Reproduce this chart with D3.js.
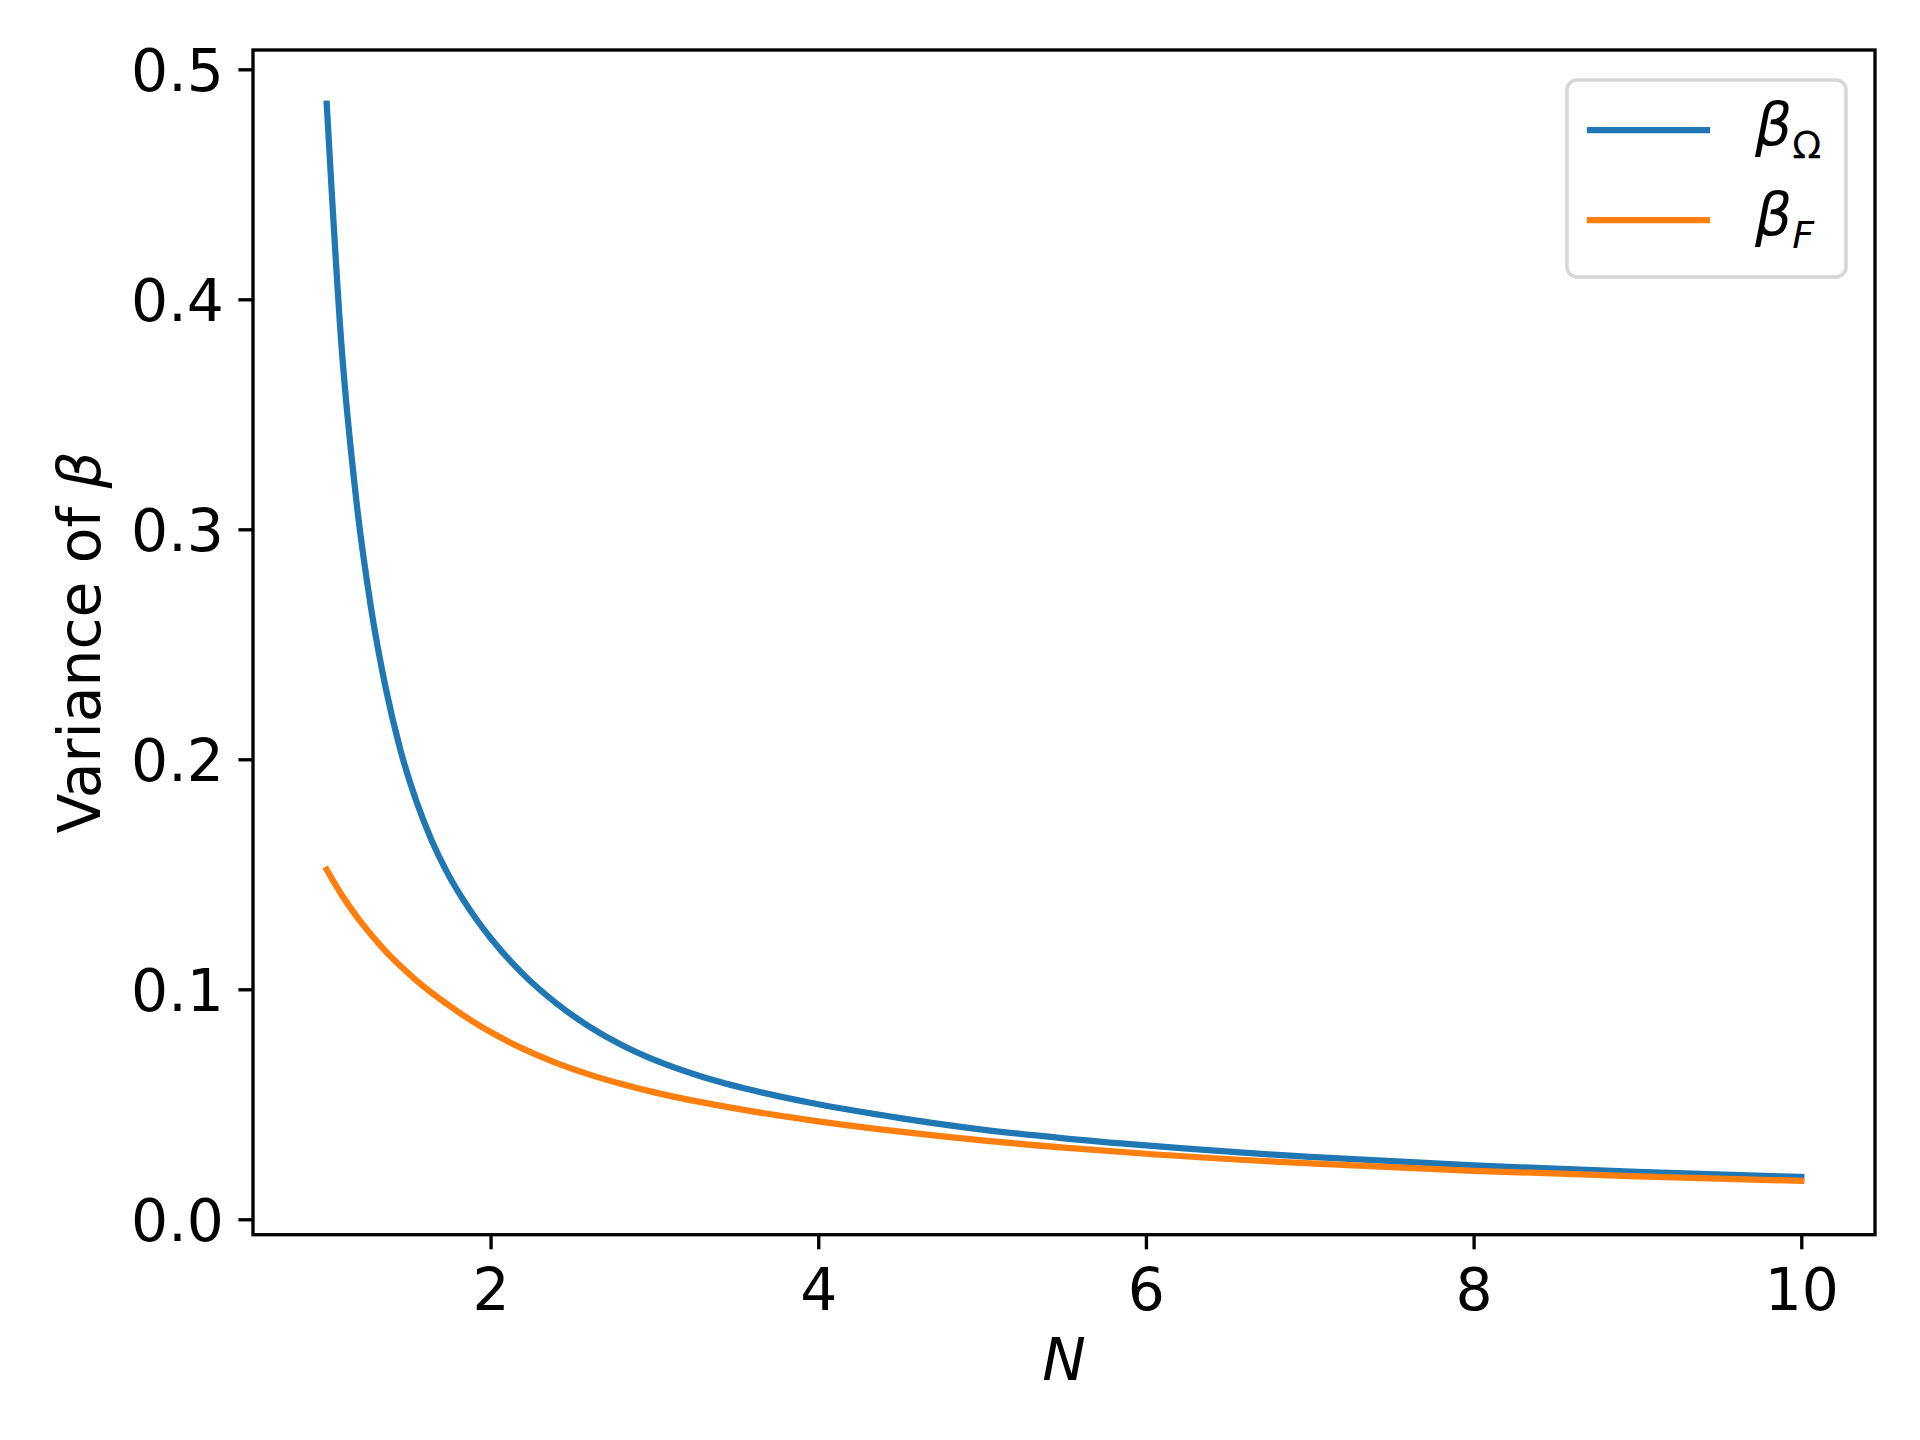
<!DOCTYPE html>
<html>
<head>
<meta charset="utf-8">
<script src="https://cdnjs.cloudflare.com/ajax/libs/d3/7.8.5/d3.min.js"></script>
<style>
  body { margin: 0; background: #fff; }
  text { font-family: "DejaVu Sans", sans-serif; fill: #000; }
</style>
</head>
<body>
<svg width="1920" height="1440"></svg>
<script>
// values
var nValues = [1.00, 1.09, 1.18, 1.27, 1.36, 1.45, 1.55, 1.64, 1.73, 1.82, 1.91, 2.00,
  2.2, 2.4, 2.6, 2.8, 3.0, 3.3, 3.6, 4.0, 4.5, 5.0, 5.5, 6.0, 7.0, 8.0, 9.0, 10.0];
var betaOmega = [0.485, 0.380, 0.313, 0.266, 0.231, 0.204, 0.1812, 0.1648, 0.1515, 0.1404, 0.1308, 0.1223,
  0.1065, 0.0940, 0.0839, 0.0758, 0.0693, 0.0618, 0.0561, 0.0500, 0.0440, 0.0390, 0.0352, 0.0321,
  0.0271, 0.0234, 0.0206, 0.0184];
var betaF = [0.152, 0.1412, 0.1319, 0.1238, 0.1165, 0.1101, 0.1037, 0.0985, 0.0938, 0.0893, 0.0852, 0.0814,
  0.0741, 0.0680, 0.0630, 0.0588, 0.0552, 0.0507, 0.0469, 0.0426, 0.0381, 0.0343, 0.0312, 0.0285,
  0.0243, 0.0211, 0.0187, 0.0167];
var xTicks = [2, 4, 6, 8, 10],
  yTicks = [0.0, 0.1, 0.2, 0.3, 0.4, 0.5];
var xLimits = [0.55, 10.45],
  yLimits = [-0.0067, 0.5084];

var fontSize = 58.3,
  lineWidth = 6.25,
  spineWidth = 3.33,
  tickLen = 14.6;

var series = [
  {name: "omega", color: "#1f77b4", values: betaOmega},
  {name: "F", color: "#ff7f0e", values: betaF}
];

var svg = d3.select("svg");

var x = d3.scaleLinear().domain(xLimits).range([253, 1875]),
  y = d3.scaleLinear().domain(yLimits).range([1234.7, 50]);

// Axes
var xAxis = svg.append("g")
  .attr("transform", "translate(0," + y.range()[0] + ")")
  .call(d3.axisBottom(x)
    .tickValues(xTicks)
    .tickFormat(d3.format("d"))
    .tickSizeInner(tickLen)
    .tickSizeOuter(0)
    .tickPadding(19.3));

var yAxis = svg.append("g")
  .attr("transform", "translate(" + x.range()[0] + ",0)")
  .call(d3.axisLeft(y)
    .tickValues(yTicks)
    .tickFormat(d3.format(".1f"))
    .tickSizeInner(tickLen)
    .tickSizeOuter(0)
    .tickPadding(14.6));

[xAxis, yAxis].forEach(function(a) {
  a.select(".domain").remove();
  a.attr("font-family", null).attr("font-size", null);
  a.selectAll(".tick line").attr("stroke", "#000").attr("stroke-width", spineWidth);
  a.selectAll(".tick text").style("font-size", fontSize + "px");
});
yAxis.selectAll(".tick text").attr("dy", "0.36em");

// Lines
var line = d3.line()
  .x(function(d) { return x(d[0]); })
  .y(function(d) { return y(d[1]); })
  .curve(d3.curveMonotoneX);

svg.append("g")
  .selectAll("path")
  .data(series)
  .enter().append("path")
    .attr("fill", "none")
    .attr("stroke", function(d) { return d.color; })
    .attr("stroke-width", lineWidth)
    .attr("stroke-linecap", "square")
    .attr("d", function(d) {
      return line(d.values.map(function(v, i) { return [nValues[i], v]; }));
    });

// Frame (spines)
svg.append("rect")
  .attr("x", x.range()[0])
  .attr("y", y.range()[1])
  .attr("width", x.range()[1] - x.range()[0])
  .attr("height", y.range()[0] - y.range()[1])
  .attr("fill", "none")
  .attr("stroke", "#000")
  .attr("stroke-width", spineWidth);

// Axis labels
svg.append("text")
  .attr("x", (x.range()[0] + x.range()[1]) / 2)
  .attr("y", 1380)
  .attr("text-anchor", "middle")
  .style("font-size", fontSize + "px")
  .style("font-style", "italic")
  .text("N");

var yLabel = svg.append("text")
  .attr("transform", "translate(100," + (y.range()[0] + y.range()[1]) / 2 + ") rotate(-90)")
  .attr("text-anchor", "middle")
  .style("font-size", fontSize + "px");
yLabel.append("tspan").text("Variance of ");
yLabel.append("tspan").style("font-style", "italic").text("β");

// Legend
var legend = svg.append("g");

legend.append("rect")
  .attr("x", 1567)
  .attr("y", 80)
  .attr("width", 279)
  .attr("height", 197)
  .attr("rx", 10)
  .attr("fill", "#fff")
  .attr("stroke", "#d6d6d6")
  .attr("stroke-width", 3.5);

var entries = legend.selectAll(".entry")
  .data(series)
  .enter().append("g")
    .attr("class", "entry")
    .attr("transform", function(d, i) { return "translate(0," + (i * 90) + ")"; });

entries.append("line")
  .attr("x1", 1590)
  .attr("x2", 1707)
  .attr("y1", 130)
  .attr("y2", 130)
  .attr("stroke", function(d) { return d.color; })
  .attr("stroke-width", lineWidth)
  .attr("stroke-linecap", "square");

var label = entries.append("text")
  .attr("x", 1755)
  .attr("y", 145)
  .style("font-size", fontSize + "px");

label.append("tspan")
  .style("font-style", "italic")
  .text("β");

label.append("tspan")
  .attr("dy", 13)
  .style("font-size", "38px")
  .style("font-style", function(d) { return d.name == "F" ? "italic" : "normal"; })
  .text(function(d) { return d.name == "F" ? "F" : "Ω"; });
</script>
</body>
</html>
